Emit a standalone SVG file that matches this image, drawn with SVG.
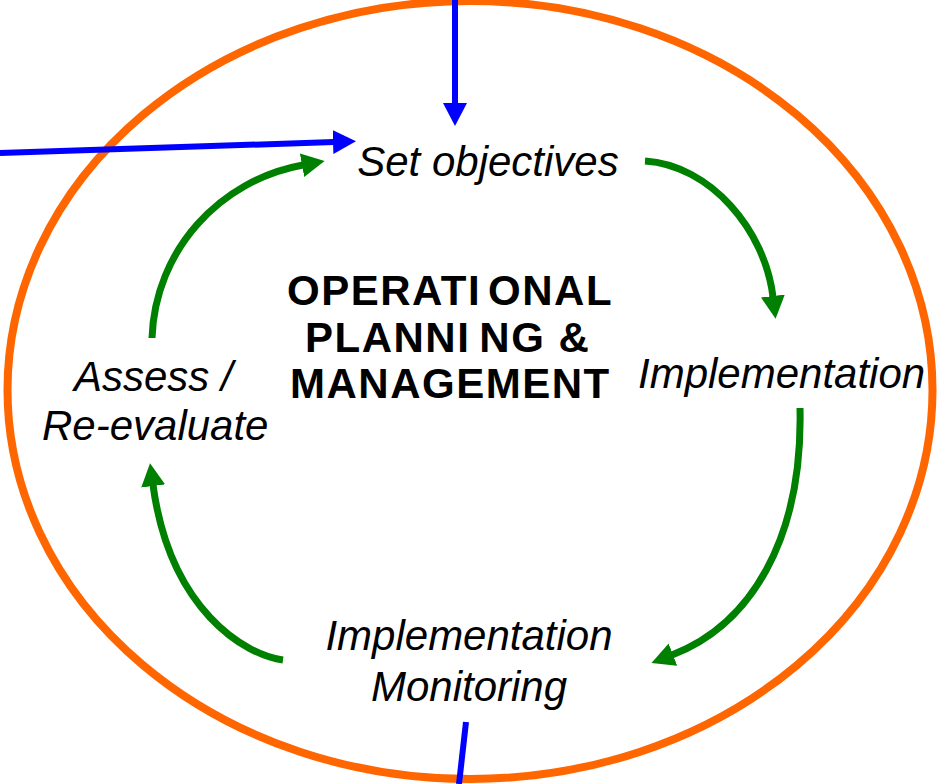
<svg xmlns="http://www.w3.org/2000/svg" width="942" height="784" viewBox="0 0 942 784">
<style>
.lbl{font-family:"Liberation Sans",Arial,sans-serif;font-style:italic;font-size:42px;fill:#000}
.ttl{font-family:"Liberation Sans",Arial,sans-serif;font-weight:bold;font-size:42px;letter-spacing:1.5px;fill:#000}
.g{fill:none;stroke:#008000;stroke-width:7}
.b{fill:none;stroke:#0000FF;stroke-width:6}
</style>
<defs>
<marker id="ag" markerUnits="userSpaceOnUse" markerWidth="24" markerHeight="24" viewBox="0 0 24 24" refX="1" refY="12" orient="auto"><path d="M0,0 L23,12 L0,24 z" fill="#008000"/></marker>
<marker id="ab" markerUnits="userSpaceOnUse" markerWidth="24" markerHeight="24" viewBox="0 0 24 24" refX="1" refY="12" orient="auto"><path d="M0,0 L23,12 L0,24 z" fill="#0000FF"/></marker>
</defs>
<rect width="942" height="784" fill="#fff"/>
<ellipse id="boundary" cx="470" cy="390" rx="462.5" ry="389" fill="none" stroke="#FF6600" stroke-width="8"/>
<g id="connectors">
<path class="b" d="M455,0 L455,104" marker-end="url(#ab)"/>
<path class="b" d="M0,153 L334,142" marker-end="url(#ab)"/>
<path class="b" d="M466,722 L459,784" stroke-width="7"/>
<path class="g" d="M152,338 C155,250 220,180 303,165" marker-end="url(#ag)"/>
<path class="g" d="M645,161 C710,165 765,230 773,297" marker-end="url(#ag)"/>
<path class="g" d="M800,408 C803,540 750,625 672,655" marker-end="url(#ag)"/>
<path class="g" d="M283,660 C245,655 170,610 153,485" marker-end="url(#ag)"/>
</g>
<g id="set-objectives"><text class="lbl" x="488" y="176" text-anchor="middle">Set objectives</text></g>
<g id="implementation"><text class="lbl" x="638" y="388">Implementation</text></g>
<g id="monitoring"><text class="lbl" x="469" y="650" text-anchor="middle">Implementation</text><text class="lbl" x="469" y="701" text-anchor="middle">Monitoring</text></g>
<g id="assess"><text class="lbl" x="74" y="391">Assess /</text><text class="lbl" x="42" y="440">Re-evaluate</text></g>
<g id="title"><text class="ttl" x="287" y="305">OPERATI<tspan dx="7">ONAL</tspan></text><text class="ttl" x="305" y="352">PLANNI<tspan dx="9">NG &amp;</tspan></text><text class="ttl" x="290" y="398">MANAGEMENT</text></g>
</svg>
